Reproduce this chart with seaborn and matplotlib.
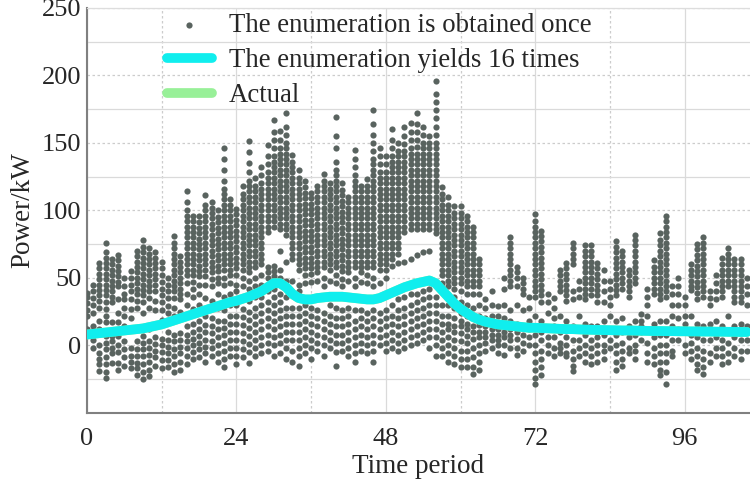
import numpy as np
import pandas as pd
import matplotlib
matplotlib.use("Agg")
import matplotlib.pyplot as plt
import seaborn as sns

# ---------------- data ----------------
periods = list(range(107))

# scenario points for each period (one string per period)
scatter_00_23 = [
    "39 36 31 26 22 12",
    "45 40 35 30 24 14 4 -2",
    "61 57 53 49 45 41 37 33 28 18 12 0 -6 -10 -14 -19",
    "76 69 65 61 57 53 49 45 41 37 32 27 22 17 7 2 -3 -9 -14 -20 -24",
    "64 60 56 52 48 44 40 36 32 17 7 3 -2 -6 -13",
    "67 63 59 55 51 47 44 34 24 17 11 7 0 -5 -13 -18",
    "50 44 38 34 28 22 14 3 -3 -9 -15",
    "55 50 45 40 34 27 20 -2 -8 -12 -17",
    "70 66 62 58 54 50 46 42 38 33 28 3 -3 -8 -13 -17 -22",
    "78 73 69 65 61 57 53 49 45 41 37 32 24 7 2 -3 -8 -14 -20 -25",
    "72 68 64 60 56 52 48 44 40 35 28 12 3 -2 -7 -12 -18 -23",
    "69 65 61 57 53 49 45 40 33 26 6 1 -4 -9 -15",
    "62 57 52 47 42 37 32 26 19 5 0 -5 -11 -17",
    "50 45 40 35 29 24 10 4 -1 -6 -11 -16",
    "81 76 72 68 64 60 56 52 48 44 40 35 28 22 8 3 -3 -8 -14 -20",
    "66 62 58 54 50 46 42 38 34 25 9 4 -1 -6 -12 -18",
    "114 106 100 96 92 88 84 80 76 72 68 64 60 56 52 46 38 30 14 8 3 -2 -8 -14",
    "96 92 88 84 80 76 72 68 64 60 56 52 47 42 36 27 16 10 5 0 -5 -10",
    "96 91 87 83 79 75 71 67 63 59 55 51 45 38 30 18 12 7 2 -3 -9",
    "111 104 100 96 92 88 84 80 76 72 68 64 60 56 51 45 35 22 15 10 4 -1 -6 -12",
    "106 102 98 94 90 86 82 78 74 70 66 62 58 54 49 44 33 20 14 9 3 -2 -8",
    "100 95 91 87 83 79 75 71 67 63 59 55 50 46 38 28 18 12 6 0 -6 -12",
    "146 138 130 122 116 112 108 104 100 96 92 88 84 80 76 72 68 64 60 56 50 45 36 26 18 13 8 2 -4 -10 -16",
    "108 104 100 96 92 88 84 80 76 72 68 64 60 56 52 46 38 30 22 16 10 4 -2 -8",
]
scatter_24_47 = [
    "101 97 93 89 85 81 77 73 69 65 61 57 52 45 40 30 22 16 10 4 -2 -8 -14",
    "118 112 108 104 100 96 92 88 84 80 76 72 68 64 60 56 50 44 35 27 21 15 9 3 -3 -9",
    "151 143 135 128 122 118 114 110 106 102 98 94 90 86 82 78 74 70 66 62 58 54 48 42 33 25 19 13 7 1 -5 -13",
    "124 118 114 110 106 102 98 94 90 86 82 78 74 70 66 62 58 50 44 36 28 22 16 10 4 -2 -8",
    "132 126 120 116 112 108 104 100 96 92 88 84 80 76 72 68 64 60 52 45 36 30 24 18 12 6 0 -6",
    "148 140 134 128 124 120 116 112 108 104 100 96 92 88 84 58 54 50 40 32 26 20 14 8 2 -4",
    "167 158 152 146 140 136 132 128 124 120 116 112 108 104 100 96 92 88 59 55 51 47 42 36 30 24 18 12 6 0 -8",
    "159 152 146 142 138 134 130 126 122 118 114 110 106 102 98 94 90 86 70 56 50 38 32 26 20 14 8 2 -6",
    "172 162 156 150 146 142 138 134 130 126 122 118 114 110 106 102 98 94 90 86 82 62 48 36 28 22 16 10 4 -2 -10",
    "141 136 132 128 124 120 116 112 108 104 100 96 92 88 84 80 76 72 68 64 48 38 28 22 16 10 4 -4 -12",
    "130 124 120 116 112 108 104 100 96 92 88 84 80 76 72 68 64 60 56 45 40 28 22 16 10 4 -2 -8 -15",
    "122 117 113 109 105 101 97 93 89 85 81 77 73 69 65 61 57 52 46 30 24 18 12 6 0 -6",
    "113 109 105 101 97 93 89 85 81 77 73 69 65 61 57 53 47 28 22 16 10 4 -2 -10",
    "118 114 110 106 102 98 94 90 86 82 78 74 70 66 62 58 54 48 26 20 14 8 2 -4",
    "127 122 118 114 110 106 102 98 94 90 86 82 78 74 70 66 62 58 50 44 24 18 12 6 0 -8",
    "120 116 112 108 104 100 96 92 88 84 80 76 72 68 64 60 56 48 30 22 16 10 4 -2",
    "169 155 146 136 130 126 122 118 114 110 106 102 98 94 90 86 82 78 74 70 66 62 58 52 46 28 20 14 8 2 -5 -15",
    "120 115 111 107 103 99 95 91 87 83 79 75 71 67 63 59 55 49 44 26 20 14 8 2 -4",
    "110 106 102 98 94 90 86 82 78 74 70 66 62 58 54 48 28 22 16 10 4 -2 -8",
    "145 138 132 126 122 118 114 110 106 102 98 94 90 86 82 78 74 70 66 62 58 50 44 26 18 12 6 0 -6 -12",
    "118 114 110 106 102 98 94 90 86 82 78 74 70 66 62 58 54 47 26 20 14 8 2 -4",
    "123 118 114 110 106 102 98 94 90 86 82 78 74 70 66 62 58 52 46 24 18 12 6 0 -6",
    "174 164 156 150 144 138 134 130 126 122 118 114 110 106 102 98 94 90 86 82 78 74 70 66 62 58 50 44 26 20 14 8 2 -4 -12",
    "146 140 134 128 124 120 116 112 108 104 100 96 92 88 84 80 76 72 68 64 60 56 46 24 18 12 6 0",
]
scatter_48_71 = [
    "140 134 128 124 120 116 112 108 104 100 96 92 88 84 80 76 72 68 64 60 56 50 26 20 14 8 2 -4",
    "160 152 146 140 136 132 128 124 120 116 112 108 104 100 96 92 88 84 80 76 72 68 64 59 30 22 16 10 4 -2",
    "150 144 140 136 132 128 124 120 116 112 108 104 100 96 92 88 84 80 76 72 68 61 34 26 20 14 8 2 -4",
    "162 155 149 144 140 136 132 128 124 120 116 112 108 104 100 96 92 88 84 62 36 28 22 16 10 4 -2",
    "165 158 152 146 142 138 134 130 126 122 118 114 110 106 102 98 94 90 86 64 38 30 24 18 12 6 0",
    "172 164 158 152 147 142 138 134 130 126 122 118 114 110 106 102 98 94 90 86 67 38 32 26 20 14 8 2",
    "162 156 150 146 142 138 134 130 126 122 118 114 110 106 102 98 94 90 86 69 40 34 28 22 16 10 4",
    "155 150 146 142 138 134 130 126 122 118 114 110 106 102 98 94 90 86 70 42 36 30 24 18 12 6 -2",
    "196 186 180 174 168 162 156 150 146 142 138 134 130 126 122 118 114 110 106 102 98 94 90 86 83 36 30 24 18 12 6 0 -8",
    "117 112 108 104 100 96 92 88 84 80 76 72 68 64 60 56 52 46 40 30 22 16 10 4 -2 -8",
    "110 104 100 96 92 88 84 80 76 72 68 64 60 56 52 48 44 38 30 22 16 12 6 0 -6 -12",
    "103 98 94 90 86 82 78 74 70 66 62 58 54 50 46 42 36 28 20 14 10 4 -2 -8 -14",
    "103 98 94 90 86 82 78 74 70 66 62 58 54 50 46 40 32 24 18 14 9 3 -4 -10 -16",
    "96 92 88 84 80 76 72 68 64 60 56 52 48 44 38 30 22 16 12 7 2 -4 -10 -16",
    "88 84 80 76 72 68 64 60 56 52 48 44 38 28 20 14 10 5 -2 -9 -16 -21",
    "64 60 56 52 48 44 38 30 22 15 10 6 0 -6 -12 -18",
    "34 28 20 14 10 6 2 -4",
    "40 30 22 16 12 8 4 -2",
    "29 22 16 12 8 4 0 -6",
    "50 42 30 20 14 10 6 0 -7",
    "80 76 72 68 64 60 56 52 48 44 26 18 12 8 4 -2",
    "58 54 50 44 30 16 10 5 -2 -7",
    "50 46 42 38 26 14 8 2 -4",
    "36 28 18 12 6 0",
]
scatter_72_106 = [
    "97 92 88 84 80 76 72 68 64 60 56 52 48 44 40 36 22 14 8 0 -6 -12 -18 -24 -29",
    "85 81 77 73 69 65 61 57 53 49 45 41 37 32 18 10 4 -4 -10 -16 -22",
    "38 32 24 12 6 0 -6",
    "35 28 20 14 6 -2 -8",
    "56 52 48 44 40 22 10 2 -2 -6",
    "61 57 53 49 45 41 37 33 18 6 0 -6 -8",
    "76 72 68 64 60 40 34 14 4 -4 -10 -15 -19",
    "48 42 36 22 12 4 -2 -8",
    "74 70 66 62 58 54 50 46 42 38 34 16 8 0 -6 -12",
    "74 70 66 62 58 54 50 46 42 37 14 4 -2 -8 -14",
    "61 57 53 49 45 41 37 32 14 6 0 -6 -12",
    "56 48 40 32 18 8 0 -4 -10",
    "48 42 36 30 22 12 4 -2",
    "77 73 69 65 61 57 53 49 45 41 37 18 8 0 -6 -12 -18",
    "70 66 62 58 54 50 46 42 20 10 2 -4 -10 -15",
    "56 52 48 44 40 36 14 6 -2 -6",
    "82 78 74 70 66 62 58 54 50 46 18 8 0 -4 -10",
    "23 18 14 10 4",
    "42 36 30 22 12 2 -6 -12",
    "63 58 54 50 46 42 38 16 6 -2 -8 -14",
    "83 78 74 70 66 62 58 54 50 46 42 38 34 18 8 0 -6 -12 -18 -22",
    "96 92 88 84 80 76 72 68 64 60 56 52 48 44 40 36 18 8 0 -6 -12 -20 -29",
    "44 38 30 22 14 4 -4 -8",
    "50 44 38 30 20 12 4",
    "36 30 22 16 10 0 -6",
    "60 56 52 48 44 41 22 8 2 -4 -10",
    "75 71 67 63 59 55 51 47 43 39 34 16 6 -2 -8 -14 -18",
    "80 76 72 68 64 60 56 52 48 44 40 36 14 4 -4 -10 -16 -21",
    "40 35 30 16 4 -6 -12",
    "52 46 40 34 18 6 -2 -8",
    "65 60 56 52 48 44 40 36 14 4 -2 -8 -14",
    "72 68 64 60 56 52 48 44 22 10 2 -6 -12",
    "64 60 56 52 48 44 40 36 32 14 6 -2 -8",
    "64 60 56 52 48 44 40 36 32 16 4 -4 -10",
    "50 44 38 30 14 4 -4",
]

# enumeration yields 16 times (cyan line)
forecast = [8, 8.5, 9, 9.5, 10, 10.5, 11, 11.5, 12, 12.5,
            13.5, 14.5, 15.5, 17, 18.5, 20, 21.5, 23, 24.5, 26,
            27.5, 29, 30.5, 32, 33, 34.5, 36, 38, 40, 43,
            46, 46, 43, 38, 35, 34, 34, 35, 35.5, 36,
            36, 36, 35.5, 35, 34.5, 34, 34, 35, 37, 39,
            41, 43, 44.5, 46, 47, 48, 46, 41, 36, 31,
            27, 24, 21, 19, 17.5, 16.5, 15.5, 15, 14.5, 14,
            13.5, 13, 13, 12.8, 12.6, 12.4, 12.2, 12, 12, 11.8,
            11.6, 11.5, 11.4, 11.3, 11.2, 11.1, 11, 11, 10.9, 10.8,
            10.7, 10.6, 10.6, 10.5, 10.5, 10.4, 10.4, 10.3, 10.3, 10.2,
            10.2, 10.1, 10.1, 10, 10, 9.9, 9.9]
# actual (hidden under the cyan line)
actual = [8, 8.5, 9, 9.5, 10, 10.5, 11, 11.5, 12, 12.5,
          13.5, 14.5, 15.5, 17, 18.5, 20, 21.5, 23, 24.5, 26,
          27.5, 29, 30.5, 32, 33, 34.5, 36, 38, 40, 43,
          46, 46, 43, 38, 35, 34, 34, 35, 35.5, 36,
          36, 36, 35.5, 35, 34.5, 34, 34, 35, 37, 39,
          41, 43, 44.5, 46, 47, 48, 46, 41, 36, 31,
          27, 24, 21, 19, 17.5, 16.5, 15.5, 15, 14.5, 14,
          13.5, 13, 13, 12.8, 12.6, 12.4, 12.2, 12, 12, 11.8,
          11.6, 11.5, 11.4, 11.3, 11.2, 11.1, 11, 11, 10.9, 10.8,
          10.7, 10.6, 10.6, 10.5, 10.5, 10.4, 10.4, 10.3, 10.3, 10.2,
          10.2, 10.1, 10.1, 10, 10, 9.9, 9.9]

x_ticks = [0, 24, 48, 72, 96]
y_ticks = [0, 50, 100, 150, 200, 250]

# ---------------- build tables ----------------
columns = scatter_00_23 + scatter_24_47 + scatter_48_71 + scatter_72_106
rows = []
for t, col in zip(periods, columns):
    for v in col.split():
        rows.append((t, float(v)))
pts = pd.DataFrame(rows, columns=["t", "p"])
lines = pd.DataFrame({"t": periods, "forecast": forecast, "actual": actual})

# ---------------- plot ----------------
sns.set_theme(style="white")
plt.rcParams['font.family'] = ['Liberation Serif', 'DejaVu Serif']

fig = plt.figure(figsize=(7.5, 4.84), dpi=100)
ax = fig.add_axes([0.116, 0.147, 0.884, 0.837])

dot_color = "#59635F"
sns.scatterplot(data=pts, x="t", y="p", color=dot_color, s=20, linewidth=0,
                ax=ax, label="The enumeration is obtained once", zorder=3)
sns.lineplot(data=lines, x="t", y="actual", color="#98F098", lw=7, ax=ax,
             label="Actual", zorder=4)
sns.lineplot(data=lines, x="t", y="forecast", color="#10EEEE", lw=7, ax=ax,
             label="The enumeration yields 16 times", zorder=5)

ax.set_xlim(0, 106.5)
ax.set_ylim(-50, 250)
ax.set_xticks(x_ticks)
ax.set_xticks([12, 36, 60, 84], minor=True)
ax.set_yticks(y_ticks)
ax.set_yticks([-25, 25, 75, 125, 175, 225], minor=True)
ax.tick_params(which="both", length=0)
ax.tick_params(axis="x", labelsize=19, pad=11)
ax.tick_params(axis="y", labelsize=19, pad=4)

ax.grid(which="major", axis="x", color="#DADADA", lw=0.9, ls="-")
ax.grid(which="minor", axis="x", color="#CCCCCC", lw=0.9, ls=(0, (2, 2)))
ax.grid(which="major", axis="y", color="#CCCCCC", lw=0.9, ls=(0, (2, 2)))
ax.grid(which="minor", axis="y", color="#DADADA", lw=0.9, ls="-")
ax.set_axisbelow(True)

for s in ["left", "bottom"]:
    ax.spines[s].set_color("#808080")
    ax.spines[s].set_linewidth(1.5)
ax.spines["top"].set_color("#DDDDDD")
ax.spines["top"].set_linewidth(0.9)
ax.spines["right"].set_visible(False)

ax.set_xlabel("Time period", fontsize=19.5, labelpad=3)
ax.set_ylabel("Power/kW", fontsize=19.5, labelpad=5)

h, l = ax.get_legend_handles_labels()
order = [l.index("The enumeration is obtained once"),
         l.index("The enumeration yields 16 times"),
         l.index("Actual")]
ax.legend([h[i] for i in order], [l[i] for i in order],
          loc="upper left", bbox_to_anchor=(0.113, 1.0), frameon=False,
          fontsize=19.3, handlelength=1.65, handletextpad=0.65, labelspacing=0.37,
          borderaxespad=0.0, borderpad=0.2)

fig.savefig("out.png", dpi=100)
